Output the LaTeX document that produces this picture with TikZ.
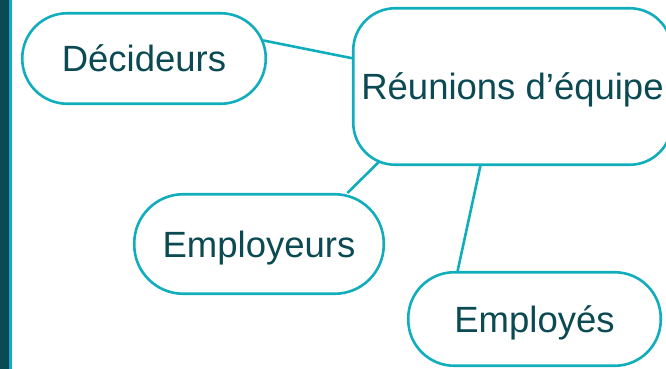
\documentclass[tikz,border=0pt]{standalone}
\usepackage{fontspec}
\setmainfont{Liberation Sans}
\usetikzlibrary{backgrounds}

\definecolor{darkteal}{HTML}{0B4A52}
\definecolor{lineteal}{HTML}{10ADBC}

\begin{document}
\begin{tikzpicture}[x=1pt, y=-1pt,
  bubble/.style={draw=lineteal, line width=2.6pt, fill=white, text=darkteal,
    font=\fontsize{36.5}{40}\selectfont, text height=26pt, text depth=0pt, inner sep=0pt},
  link/.style={draw=lineteal, line width=2.6pt}]

% drawing dimensions
\newcommand{\pwidth}{666}
\newcommand{\pheight}{369}

% ad hoc bounding box
\useasboundingbox (0, 0) rectangle (\pwidth, \pheight);

% side bar
\fill[darkteal] (0, 0) rectangle (9, \pheight);
\fill[lineteal] (9, 0) rectangle (12, \pheight);

% bubbles
\node[bubble, minimum width=243.5pt, minimum height=90.5pt, rounded corners=45pt] (dec) at (144, 58.5) {Décideurs};
\node[bubble, minimum width=318.5pt, minimum height=156.5pt, rounded corners=42pt] (reu) at (512.5, 86.5) {Réunions d’équipe};
\node[bubble, minimum width=249.5pt, minimum height=99.5pt, rounded corners=49pt] (emp) at (259, 244) {Employeurs};
\node[bubble, minimum width=252.5pt, minimum height=93.5pt, rounded corners=46pt] (ees) at (534.5, 319) {Employés};

% links, behind the bubbles
\begin{scope}[on background layer]
\draw[link, shorten <=-4pt] (dec.8) -- (reu.170);
\draw[link, shorten >=-15pt] (emp.30) -- (reu.210);
\draw[link] (ees.148) -- (reu.248);
\end{scope}

\end{tikzpicture}
\end{document}
